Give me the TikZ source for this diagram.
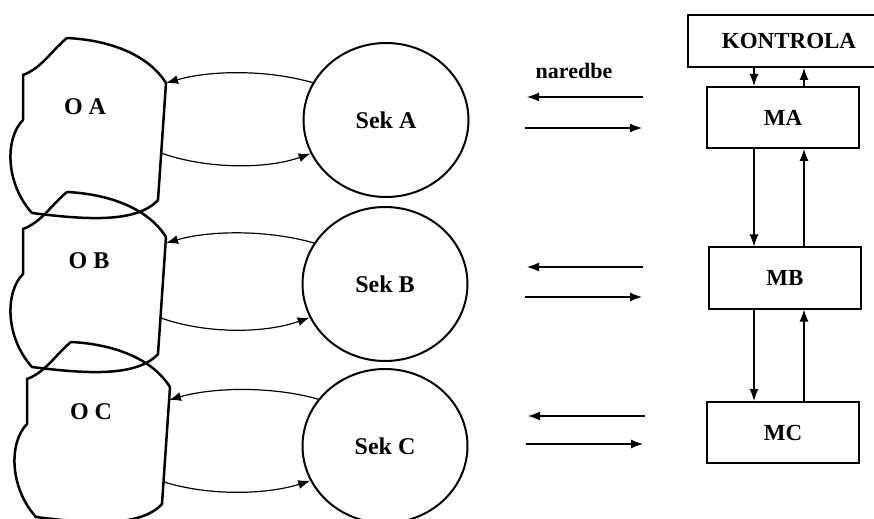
\documentclass[tikz,border=0pt]{standalone}
\usepackage{fontspec}
\setmainfont{Liberation Serif}
\usetikzlibrary{positioning,shapes.geometric,arrows.meta}

\begin{document}
\begin{tikzpicture}[x=0.5pt, y=-0.5pt, >={Latex[length=6pt,width=4.5pt]},
  blobline/.style={line width=1.25pt, line join=round},
  objblob/.pic={
    \draw[blobline] (0,0) .. controls (-15,12) and (-25,30) .. (-44,37) -- (-44,82)
      .. controls (-62,100) and (-62,145) .. (-35,175)
      .. controls (20,182) and (70,185) .. (91,162) -- (99,45)
      .. controls (80,15) and (40,2) .. cycle;
  },
  sek/.style={draw, ellipse, line width=1pt, inner sep=0pt, minimum width=82.5pt, minimum height=77pt,
    font=\fontsize{12}{14}\selectfont\bfseries},
  modul/.style={draw, rectangle, line width=1pt, minimum width=76pt, minimum height=30.5pt,
    font=\fontsize{11.5}{13}\selectfont\bfseries},
  objlabel/.style={inner sep=0pt, font=\fontsize{12}{14}\selectfont\bfseries},
  link/.style={->, line width=0.6pt}
  ]
  \useasboundingbox (0,0) rectangle (874,519);

  % objekti
  \pic at (67,38) {objblob};
  \pic at (67,192) {objblob};
  \pic at (71,342) {objblob};
  \node[objlabel] (oA) at (85,107) {O A};
  \node[objlabel] (oB) at (89,261) {O B};
  \node[objlabel] (oC) at (91,412) {O C};
  \coordinate (oAin) at (166,83);
  \coordinate (oAout) at (161,153);
  \coordinate (oBin) at (166,243);
  \coordinate (oBout) at (161,318);
  \coordinate (oCin) at (169,400);
  \coordinate (oCout) at (164,482);

  % sekvenceri
  \node[sek] (sekA) at (386,120) {Sek A};
  \node[sek] (sekB) at (385,284) {Sek B};
  \node[sek] (sekC) at (385,446) {Sek C};

  \draw[link] (sekA.153) .. controls +(-45,-13) and +(45,-13) .. (oAin);
  \draw[link] (oAout) .. controls +(45,16) and +(-45,16) .. (sekA.204);
  \draw[link] (sekB.150) .. controls +(-45,-13) and +(45,-13) .. (oBin);
  \draw[link] (oBout) .. controls +(45,16) and +(-45,16) .. (sekB.204);
  \draw[link] (sekC.145) .. controls +(-45,-13) and +(45,-13) .. (oCin);
  \draw[link] (oCout) .. controls +(45,14) and +(-45,14) .. (sekC.205);

  % naredbe
  \node[objlabel, font=\fontsize{11}{13}\selectfont\bfseries] (naredbe) at (574,71) {naredbe};
  \coordinate (nA1) at (643,97);
  \coordinate (nA2) at (527,97);
  \coordinate (nA3) at (525,128);
  \coordinate (nA4) at (642,128);
  \coordinate (nB1) at (643,267);
  \coordinate (nB2) at (527,267);
  \coordinate (nB3) at (525,297);
  \coordinate (nB4) at (642,297);
  \coordinate (nC1) at (645,416);
  \coordinate (nC2) at (528,416);
  \coordinate (nC3) at (526,444);
  \coordinate (nC4) at (643,444);
  \draw[link] (nA1) -- (nA2);
  \draw[link] (nA3) -- (nA4);
  \draw[link] (nB1) -- (nB2);
  \draw[link] (nB3) -- (nB4);
  \draw[link] (nC1) -- (nC2);
  \draw[link] (nC3) -- (nC4);

  % moduli
  \node[modul, minimum width=101pt, minimum height=26pt] (kontrola) at (789,41) {KONTROLA};
  \node[modul] (ma) at (783,117.5) {MA};
  \node[modul] (mb) at (785,278) {MB};
  \node[modul] (mc) at (783,432.5) {MC};

  \draw[link] ([xshift=-14.5pt]ma.north |- kontrola.south) -- ([xshift=-14.5pt]ma.north);
  \draw[link] ([xshift=10.5pt]ma.north) -- ([xshift=10.5pt]ma.north |- kontrola.south);
  \draw[link] ([xshift=-14.5pt]ma.south) -- ([xshift=-14.5pt]ma.south |- mb.north);
  \draw[link] ([xshift=10.5pt]ma.south |- mb.north) -- ([xshift=10.5pt]ma.south);
  \draw[link] ([xshift=-14.5pt]ma.south |- mb.south) -- ([xshift=-14.5pt]ma.south |- mc.north);
  \draw[link] ([xshift=10.5pt]ma.south |- mc.north) -- ([xshift=10.5pt]ma.south |- mb.south);
\end{tikzpicture}
\end{document}
